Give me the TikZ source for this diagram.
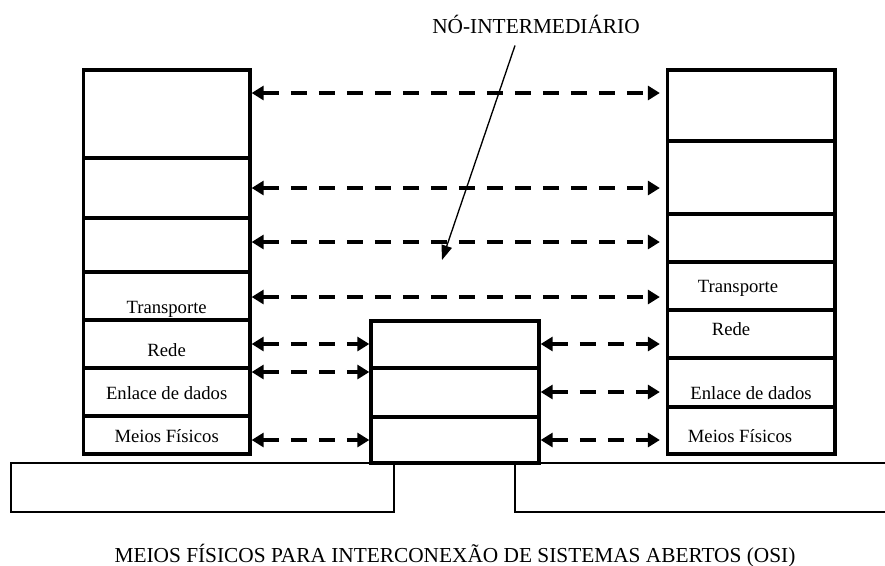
\documentclass[tikz,border=0pt]{standalone}
\usepackage{fontspec}
\setmainfont{Liberation Serif}
\usetikzlibrary{arrows.meta}

\begin{document}
\begin{tikzpicture}[x=0.75pt,y=0.75pt,yscale=-1,
  layer/.style={draw, line width=2.5pt, inner sep=0pt},
  duplex/.style={line width=3pt, dash pattern=on 12pt off 9pt,
    {Triangle[length=9pt,width=10.5pt]}-{Triangle[length=9pt,width=10.5pt]}},
  lbl/.style={anchor=base, inner sep=0.75pt, font=\fontsize{14}{16}\selectfont},
  big/.style={anchor=base, inner sep=0.75pt, font=\fontsize{16}{19}\selectfont}]
\useasboundingbox (0,0) rectangle (885,565);

% Left stack
\node [layer, minimum width=125pt, minimum height=66pt]   (L1) at (166.65,114) {};
\node [layer, minimum width=125pt, minimum height=45pt]   (L2) at (166.65,188) {};
\node [layer, minimum width=125pt, minimum height=40.5pt] (L3) at (166.65,245) {};
\node [layer, minimum width=125pt, minimum height=36pt]   (L4) at (166.65,296) {};
\node [layer, minimum width=125pt, minimum height=36pt]   (L5) at (166.65,344) {};
\node [layer, minimum width=125pt, minimum height=36pt]   (L6) at (166.65,392) {};
\node [layer, minimum width=125pt, minimum height=28.5pt] (L7) at (166.65,435) {};

% Right stack
\node [layer, minimum width=125.6pt, minimum height=53.25pt] (R1) at (751.25,105.5) {};
\node [layer, minimum width=125.6pt, minimum height=54.75pt] (R2) at (751.25,177.5) {};
\node [layer, minimum width=125.6pt, minimum height=36pt]    (R3) at (751.25,238) {};
\node [layer, minimum width=125.6pt, minimum height=36pt]    (R4) at (751.25,286) {};
\node [layer, minimum width=125.6pt, minimum height=36pt]    (R5) at (751.25,334) {};
\node [layer, minimum width=125.6pt, minimum height=36.75pt] (R6) at (751.25,382.5) {};
\node [layer, minimum width=125.6pt, minimum height=35.25pt] (R7) at (751.25,430.5) {};

% Intermediate node
\node [layer, minimum width=126pt, minimum height=35.25pt] (M1) at (455,344.5) {};
\node [layer, minimum width=126pt, minimum height=36.75pt] (M2) at (455,392.5) {};
\node [layer, minimum width=126pt, minimum height=34.5pt]  (M3) at (455,440) {};

% Physical media
\draw [line width=2pt] (11,463) -- (885,463) ;
\node [draw, line width=2pt, minimum width=287.25pt, minimum height=36.75pt] (meioesq) at (202.5,487.5) {};
\draw [line width=2pt] (515,463) -- (515,512) -- (885,512) ;

% Rows of the peer arrows
\coordinate (y1) at (0,93);
\coordinate (y2) at (0,188);
\coordinate (y3) at (0,242);
\coordinate (y4) at (0,297);
\coordinate (y5) at (0,344);
\coordinate (y6) at (0,372);
\coordinate (y7) at (0,392);
\coordinate (y8) at (0,440);

\draw [duplex, shorten >=4.5pt] (L1.east |- y1) -- (R1.west |- y1) ;
\draw [duplex, shorten >=4.5pt] (L2.east |- y2) -- (R2.west |- y2) ;
\draw [duplex, shorten >=4.5pt] (L3.east |- y3) -- (R3.west |- y3) ;
\draw [duplex, shorten >=4.5pt] (L4.east |- y4) -- (R4.west |- y4) ;
\draw [duplex] (L5.east |- y5) -- (M1.west |- y5) ;
\draw [duplex] (L6.east |- y6) -- (M2.west |- y6) ;
\draw [duplex] (L7.east |- y8) -- (M3.west |- y8) ;
\draw [duplex, shorten >=4.5pt] (M1.east |- y5) -- (R5.west |- y5) ;
\draw [duplex, shorten >=4.5pt] (M2.east |- y7) -- (R6.west |- y7) ;
\draw [duplex, shorten >=4.5pt] (M3.east |- y8) -- (R7.west |- y8) ;

% Text Node
\node [lbl] (ltransp) at (166.65,313) {Transporte};
\node [lbl] (lrede)   at (166.65,356) {Rede};
\node [lbl] (lenlace) at (166.65,399) {Enlace de dados};
\node [lbl] (lmeios)  at (166.65,442) {Meios Físicos};
% Text Node
\node [lbl] (rtransp) at (738,292) {Transporte};
\node [lbl] (rrede)   at (731,335) {Rede};
\node [lbl] (renlace) at (751,399) {Enlace de dados};
\node [lbl] (rmeios)  at (740,442) {Meios Físicos};
% Text Node
\node [big] (noint) at (536,33) {NÓ-INTERMEDIÁRIO};
\coordinate (alvo) at (442,260);
\draw [line width=1pt, -{Triangle[length=11pt,width=8pt]}] (noint.south) ++(-21,11) -- (alvo) ;
% Text Node
\node [big] (legenda) at (455,562) {MEIOS FÍSICOS PARA INTERCONEXÃO DE SISTEMAS ABERTOS (OSI)};
\end{tikzpicture}
\end{document}
